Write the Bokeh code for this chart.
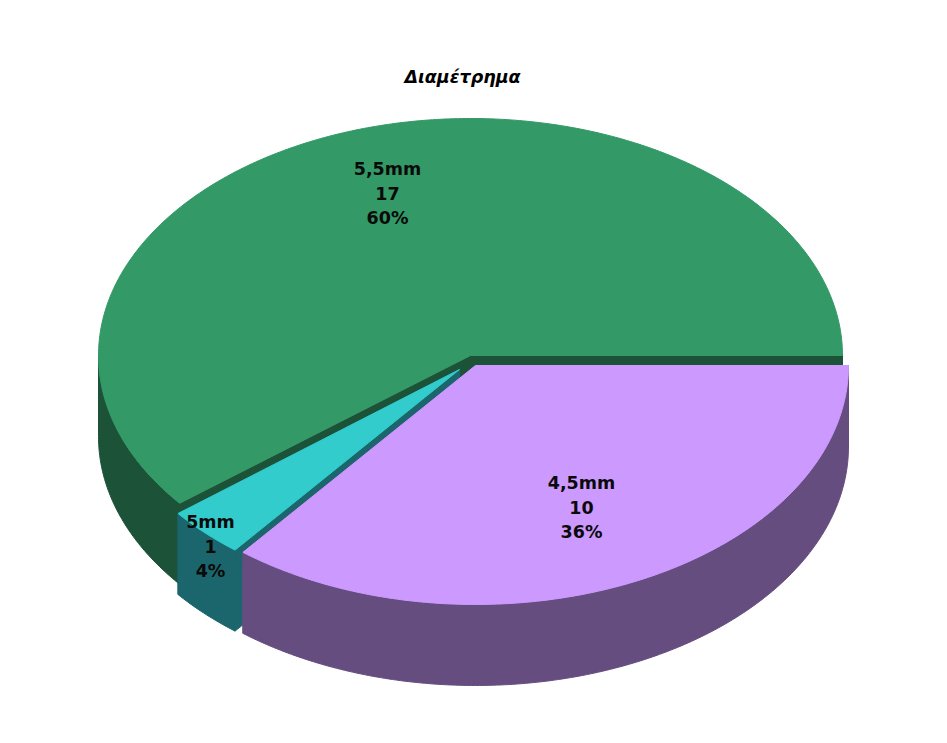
import numpy as np
from bokeh.plotting import figure
from bokeh.core.properties import value
from bokeh.embed import file_html
from bokeh.resources import INLINE

title = "Διαμέτρημα"
categories = ["4,5mm", "5mm", "5,5mm"]
counts = [10, 1, 17]
percent_labels = ["36%", "4%", "60%"]
top_colors = ["#CC99FF", "#33CCCC", "#339966"]
side_colors = ["#664D7F", "#1B666C", "#1C5238"]

# layout of the 3D disc, in page pixels
centers = [(475, 365), (459, 369), (470, 355)]
radii = [(373, 239), (360, 231), (372, 237)]
depth = 81
label_pos = [(581, 482.5), (210, 521.5), (387, 168.5)]
line_gap = 24.5

p = figure(width=931, height=727, x_range=(0, 931), y_range=(727, 0),
           output_backend="svg", toolbar_location=None, min_border=0,
           outline_line_color=None, background_fill_color="white", border_fill_color="white")
p.axis.visible = False
p.grid.visible = False

fracs = np.array(counts, dtype=float) / sum(counts)
edges = np.concatenate([[0], np.cumsum(fracs)]) * 2 * np.pi


def arc(c, r, a, b):
    t = np.linspace(a, b, max(int(abs(b - a) * 90), 2))
    return c[0] + r[0] * np.cos(t), c[1] + r[1] * np.sin(t)


def draw(i):
    c, r, a, b = centers[i], radii[i], edges[i], edges[i + 1]
    ax, ay = arc(c, r, a, b)
    # radial walls
    for e in (a, b):
        ex, ey = c[0] + r[0] * np.cos(e), c[1] + r[1] * np.sin(e)
        p.patch([c[0], ex, ex, c[0]], [c[1], ey, ey + depth, c[1] + depth],
                fill_color=side_colors[i], line_color=side_colors[i], line_width=1)
    # outer rim: only the part of the arc facing the viewer
    lo, hi = max(a, 0), min(b, np.pi)
    if hi > lo:
        sx, sy = arc(c, r, lo, hi)
        p.patch(np.concatenate([sx, sx[::-1]]), np.concatenate([sy, sy[::-1] + depth]),
                fill_color=side_colors[i], line_color=side_colors[i], line_width=1)
    # top face
    p.patch(np.concatenate([[c[0]], ax]), np.concatenate([[c[1]], ay]),
            fill_color=top_colors[i], line_color=top_colors[i], line_width=1)


for i in (2, 1, 0):
    draw(i)

font = value("DejaVu Sans")
for i, (x, y) in enumerate(label_pos):
    for k, s in enumerate((categories[i], str(counts[i]), percent_labels[i])):
        p.text([x], [y + k * line_gap], text=[s], text_font=font, text_font_size="17.5px",
               text_font_style="bold", text_color="#0A0A0A",
               text_align="center", text_baseline="middle")

p.text([462], [76], text=[title], text_font=font, text_font_size="17.5px",
       text_font_style="bold italic", text_color="#000000",
       text_align="center", text_baseline="middle")

open("out.html", "w").write(file_html(p, INLINE))
